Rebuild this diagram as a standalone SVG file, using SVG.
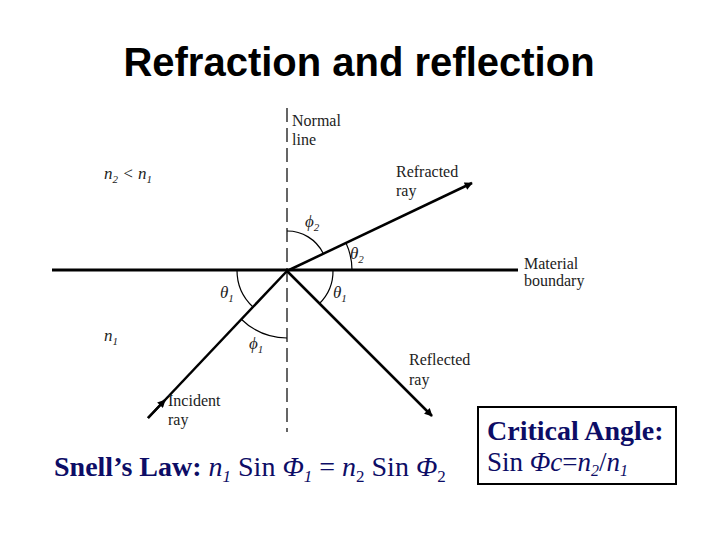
<svg xmlns="http://www.w3.org/2000/svg" width="720" height="540" viewBox="0 0 720 540">
<defs>
<marker id="ah" viewBox="0 0 10 10" refX="9" refY="5" markerWidth="10" markerHeight="8" markerUnits="userSpaceOnUse" orient="auto"><path d="M0,0 L10,5 L0,10 z" fill="#000"/></marker>
<style>
.d{font-family:"Liberation Serif",serif;font-size:16px;fill:#222}
.g{font-family:"Liberation Serif",serif;font-size:17px;font-style:italic;fill:#222}
.b{font-family:"Liberation Serif",serif;fill:#0d0d66}
.ray{stroke:#000;stroke-width:2.5;fill:none}
.arc{stroke:#000;stroke-width:1.2;fill:none}
</style>
</defs>
<rect width="720" height="540" fill="#fff"/>
<text x="359" y="76" text-anchor="middle" font-family="Liberation Sans,sans-serif" font-weight="bold" font-size="40" fill="#000">Refraction and reflection</text>
<g id="connectors">
<line x1="287" y1="108" x2="287" y2="432" stroke="#000" stroke-width="1.2" stroke-dasharray="14,6"/>
<line x1="52" y1="270" x2="518" y2="270" stroke="#000" stroke-width="3"/>
<line class="ray" x1="148" y1="418" x2="287" y2="271"/>
<line class="ray" x1="148" y1="418" x2="165" y2="400" marker-end="url(#ah)"/>
<line class="ray" x1="287" y1="271" x2="472" y2="183" marker-end="url(#ah)"/>
<line class="ray" x1="287" y1="271" x2="432" y2="416" marker-end="url(#ah)"/>
<path class="arc" d="M287,231 A40,40 0 0 1 323,253"/>
<path class="arc" d="M346,243 A65,65 0 0 1 352,270"/>
<path class="arc" d="M237,270 A50,50 0 0 0 253,307"/>
<path class="arc" d="M333,270 A46,46 0 0 1 319,304"/>
<path class="arc" d="M241,319 A67,67 0 0 0 287,338"/>
</g>
<g id="labels">
<text class="d" x="292" y="126">Normal</text>
<text class="d" x="292" y="145">line</text>
<text class="g" x="104" y="179">n<tspan font-size="11" dy="4">2</tspan><tspan dy="-4"> &lt; n</tspan><tspan font-size="11" dy="4">1</tspan></text>
<text class="g" x="104" y="341">n<tspan font-size="11" dy="4">1</tspan></text>
<text class="d" x="396" y="177">Refracted</text>
<text class="d" x="396" y="196">ray</text>
<text class="d" x="524" y="269">Material</text>
<text class="d" x="524" y="286">boundary</text>
<text class="d" x="409" y="365">Reflected</text>
<text class="d" x="409" y="385">ray</text>
<text class="d" x="168" y="406">Incident</text>
<text class="d" x="168" y="425">ray</text>
<text class="g" x="305" y="227">ϕ<tspan font-size="11" dy="4">2</tspan></text>
<text class="g" x="350" y="259">θ<tspan font-size="11" dy="4">2</tspan></text>
<text class="g" x="220" y="298">θ<tspan font-size="11" dy="4">1</tspan></text>
<text class="g" x="333" y="298">θ<tspan font-size="11" dy="4">1</tspan></text>
<text class="g" x="249" y="349">ϕ<tspan font-size="11" dy="4">1</tspan></text>
</g>
<g id="snell">
<text class="b" x="54" y="476" font-size="28"><tspan font-weight="bold">Snell’s Law: </tspan><tspan font-style="italic">n</tspan><tspan font-style="italic" font-size="17" dy="6">1</tspan><tspan dy="-6"> Sin </tspan><tspan font-style="italic">Φ</tspan><tspan font-style="italic" font-size="17" dy="6">1</tspan><tspan dy="-6"> =  </tspan><tspan font-style="italic">n</tspan><tspan font-size="17" dy="6">2</tspan><tspan dy="-6"> Sin </tspan><tspan font-style="italic">Φ</tspan><tspan font-size="17" dy="6">2</tspan></text>
</g>
<g id="critical">
<rect x="478" y="407" width="198" height="77" fill="#fff" stroke="#000" stroke-width="2"/>
<text class="b" x="487" y="440" font-size="28" font-weight="bold">Critical Angle:</text>
<text class="b" x="487" y="471" font-size="27">Sin <tspan font-style="italic">Φc</tspan>=<tspan font-style="italic">n</tspan><tspan font-style="italic" font-size="16" dy="5">2</tspan><tspan dy="-5">/</tspan><tspan font-style="italic">n</tspan><tspan font-style="italic" font-size="16" dy="5">1</tspan></text>
</g>
</svg>
